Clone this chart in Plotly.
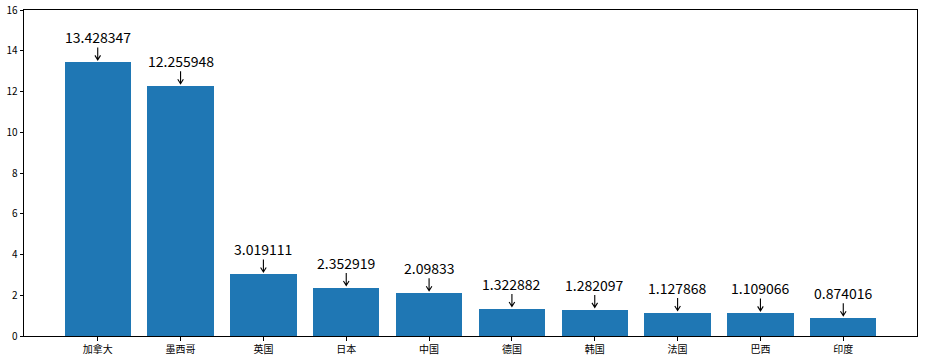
import plotly.graph_objects as go

categories = ["加拿大", "墨西哥", "英国", "日本", "中国", "德国", "韩国", "法国", "巴西", "印度"]
values = [13.428347, 12.255948, 3.019111, 2.352919, 2.09833, 1.322882, 1.282097, 1.127868, 1.109066, 0.874016]
labels = ["13.428347", "12.255948", "3.019111", "2.352919", "2.09833", "1.322882", "1.282097", "1.127868", "1.109066", "0.874016"]
yticks = [0, 2, 4, 6, 8, 10, 12, 14, 16]

xs = list(range(len(categories)))
font = "Noto Sans CJK SC, SimHei, sans-serif"

fig = go.Figure(go.Bar(x=xs, y=values, width=0.8, marker=dict(color="#1f77b4", line=dict(width=0))))

arrow_path = "M 0 15 L 0 2.5 M -2.8 7 L 0 2.5 L 2.8 7"
for x, v, t in zip(xs, values, labels):
    fig.add_annotation(
        x=x, y=v, xref="x", yref="y", text=t, showarrow=False,
        yanchor="middle", yshift=25,
        font=dict(family=font, size=14, color="black"),
    )
    fig.add_shape(
        type="path", xref="x", yref="y", xsizemode="pixel", ysizemode="pixel",
        xanchor=x, yanchor=v, path=arrow_path,
        line=dict(color="black", width=1.1),
    )

axis_common = dict(showline=True, mirror=True, linecolor="black", linewidth=1, automargin=False,
                   ticks="outside", ticklen=3.5, tickcolor="black", showgrid=False, zeroline=False,
                   ticklabeloverflow="allow",
                   tickfont=dict(family=font, size=10, color="black"))

fig.update_layout(
    width=927, height=360,
    margin=dict(l=24, r=10, t=10, b=24),
    plot_bgcolor="white", paper_bgcolor="white",
    showlegend=False,
    xaxis=dict(range=[-0.89, 9.89], tickvals=xs, ticktext=categories, **axis_common),
    yaxis=dict(range=[0, 16], tickvals=yticks, ticktext=[str(v) for v in yticks], **axis_common),
    bargap=0,
)

fig.write_html("out.html", config={"displayModeBar": False},
               post_script="document.body.style.margin='0';")
